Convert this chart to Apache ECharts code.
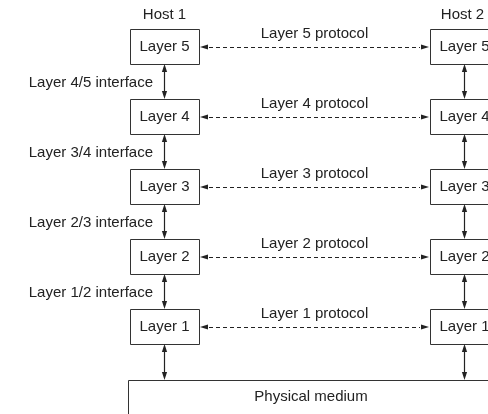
<!DOCTYPE html>
<html>
<head>
<meta charset="utf-8">
<script src="https://cdn.jsdelivr.net/npm/echarts@6/dist/echarts.min.js"></script>
<style>html,body{margin:0;padding:0;background:#fff}#c{width:488px;height:414px}</style>
</head>
<body>
<div id="c"></div>
<script>
// ---- data ----
var hosts = ['Host 1', 'Host 2'];
var layers = ['Layer 5', 'Layer 4', 'Layer 3', 'Layer 2', 'Layer 1'];
var protocols = ['Layer 5 protocol', 'Layer 4 protocol', 'Layer 3 protocol', 'Layer 2 protocol', 'Layer 1 protocol'];
var interfaces = ['Layer 4/5 interface', 'Layer 3/4 interface', 'Layer 2/3 interface', 'Layer 1/2 interface'];
var medium = ['Physical medium'];

// ---- layout (pixel-space axis units) ----
var L = {
  hostX: [130, 430], boxW: 69, boxH: 35, top: 29, step: 70,
  mediumX: 128, mediumW: 366, mediumTop: 380, mediumH: 60,
  font: 15
};
var ink = '#222';
var fontFamily = '"Liberation Sans", Arial, Helvetica, sans-serif';

function boxTop(i) { return L.top + L.step * i; }
function boxMidY(i) { return boxTop(i) + L.boxH / 2; }
function hostCx(h) { return L.hostX[h] + L.boxW / 2; }

// boxes
var boxData = [];
hosts.forEach(function (h, hi) {
  layers.forEach(function (name, li) {
    boxData.push([L.hostX[hi], boxTop(li), L.boxW, L.boxH, name]);
  });
});
boxData.push([L.mediumX, L.mediumTop, L.mediumW, L.mediumH, '']);

// vertical arrows
var vArrows = [];
hosts.forEach(function (h, hi) {
  for (var li = 0; li < layers.length; li++) {
    var y1 = boxTop(li) + L.boxH;
    var y2 = li < layers.length - 1 ? boxTop(li + 1) : L.mediumTop;
    vArrows.push([hostCx(hi), y1, hostCx(hi), y2]);
  }
});
// horizontal dashed protocol arrows
var hArrows = protocols.map(function (p, li) {
  return [L.hostX[0] + L.boxW + 1, boxMidY(li), L.hostX[1] - 1, boxMidY(li)];
});

// texts: [x, y, text, align]
var texts = [];
hosts.forEach(function (h, hi) { texts.push([hostCx(hi) + (hi ? -2 : 0), 15, h, 'center']); });
protocols.forEach(function (p, li) {
  texts.push([(L.hostX[0] + L.boxW + L.hostX[1]) / 2, boxMidY(li) - 13, p, 'center']);
});
interfaces.forEach(function (t, i) {
  texts.push([153, (boxTop(i) + L.boxH + boxTop(i + 1)) / 2 + 1.5, t, 'right']);
});
texts.push([311, 397, medium[0], 'center']);

function arrowHead(api, tip, dir) {
  // dir: unit vector pointing in arrow direction (toward tip)
  var len = 8, hw = 2.6;
  var t = api.coord(tip);
  var bx = t[0] - dir[0] * len, by = t[1] - dir[1] * len;
  var px = -dir[1] * hw, py = dir[0] * hw;
  return {
    type: 'polygon',
    shape: { points: [[t[0], t[1]], [bx + px, by + py], [bx - px, by - py]] },
    style: { fill: ink, stroke: null }
  };
}

var option = {
  animation: false,
  grid: { left: 0, right: 0, top: 0, bottom: 0 },
  xAxis: { type: 'value', min: 0, max: 488, show: false },
  yAxis: { type: 'value', min: 0, max: 414, inverse: true, show: false },
  series: [
    {
      type: 'custom', coordinateSystem: 'cartesian2d', clip: false, silent: true,
      data: boxData,
      renderItem: function (params, api) {
        var x = api.value(0), y = api.value(1), w = api.value(2), h = api.value(3);
        var p0 = api.coord([x, y]), p1 = api.coord([x + w, y + h]);
        return {
          type: 'group',
          children: [
            { type: 'rect', shape: { x: Math.round(p0[0]) + 0.5, y: Math.round(p0[1]) + 0.5, width: p1[0] - p0[0], height: p1[1] - p0[1] },
              style: { fill: '#fff', stroke: '#333', lineWidth: 1 } },
            { type: 'text', x: (p0[0] + p1[0]) / 2, y: (p0[1] + p1[1]) / 2,
              style: { text: boxData[params.dataIndex][4], fill: ink, font: L.font + 'px ' + fontFamily, align: 'center', verticalAlign: 'middle' } }
          ]
        };
      }
    },
    {
      type: 'custom', coordinateSystem: 'cartesian2d', clip: false, silent: true,
      data: vArrows,
      renderItem: function (params, api) {
        var a = [api.value(0), api.value(1)], b = [api.value(2), api.value(3)];
        var pa = api.coord(a), pb = api.coord(b);
        return {
          type: 'group',
          children: [
            { type: 'line', shape: { x1: pa[0], y1: pa[1] + 4, x2: pb[0], y2: pb[1] - 4 }, style: { stroke: ink, lineWidth: 1.2 } },
            arrowHead(api, a, [0, -1]),
            arrowHead(api, b, [0, 1])
          ]
        };
      }
    },
    {
      type: 'custom', coordinateSystem: 'cartesian2d', clip: false, silent: true,
      data: hArrows,
      renderItem: function (params, api) {
        var a = [api.value(0), api.value(1)], b = [api.value(2), api.value(3)];
        var pa = api.coord(a), pb = api.coord(b);
        return {
          type: 'group',
          children: [
            { type: 'line', shape: { x1: pa[0] + 9, y1: Math.round(pa[1]) + 0.5, x2: pb[0] - 9, y2: Math.round(pb[1]) + 0.5 },
              style: { stroke: ink, lineWidth: 1, lineDash: [4, 3] } },
            arrowHead(api, [a[0], a[1] + 0.5], [-1, 0]),
            arrowHead(api, [b[0], b[1] + 0.5], [1, 0])
          ]
        };
      }
    },
    {
      type: 'custom', coordinateSystem: 'cartesian2d', clip: false, silent: true,
      data: texts,
      renderItem: function (params, api) {
        var d = texts[params.dataIndex];
        var p = api.coord([d[0], d[1]]);
        return { type: 'text', x: p[0], y: p[1],
          style: { text: d[2], fill: ink, font: L.font + 'px ' + fontFamily, align: d[3], verticalAlign: 'middle' } };
      }
    }
  ]
};
var chart = echarts.init(document.getElementById('c'), null, { renderer: 'canvas' });
chart.setOption(option);
</script>
</body>
</html>
